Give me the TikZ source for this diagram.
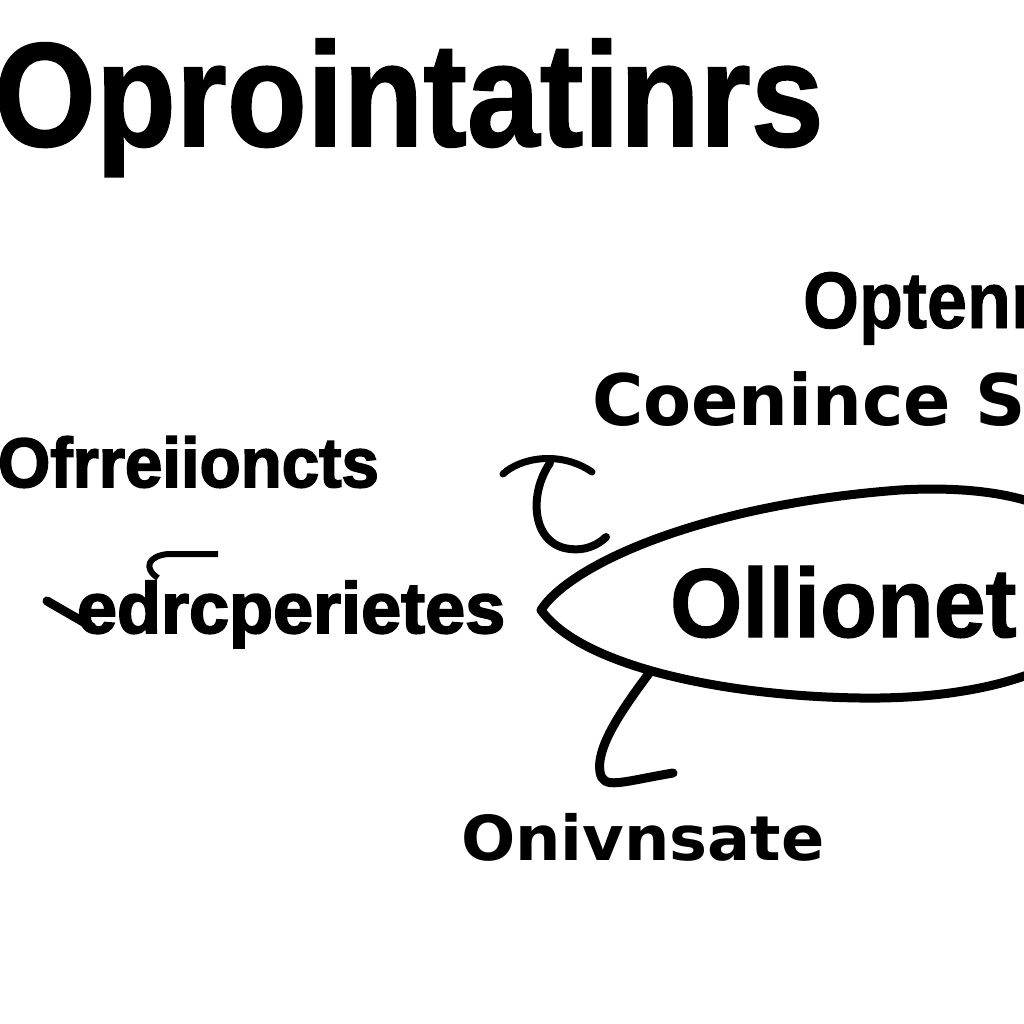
\documentclass[tikz,border=0pt]{standalone}
\usepackage{fontspec}
\setmainfont{Liberation Sans}
\newfontfamily\dvs{DejaVu Sans}
\newfontfamily\heavy[BoldFeatures={FakeBold=2.5}]{Liberation Sans}
\newfontfamily\semiheavy[BoldFeatures={FakeBold=1.2}]{Liberation Sans}
\begin{document}
\begin{tikzpicture}[x=1pt,y=-1pt,
  lbl/.style={anchor=base west, inner sep=0pt, outer sep=0pt},
  ink/.style={line width=7pt, line cap=round, line join=round, black}]
\useasboundingbox (0,0) rectangle (1024,1024);
\fill[white] (0,0) rectangle (1024,1024);
\clip (0,0) rectangle (1024,1024);
% title
\node[lbl] (title) at (-6,146) {\fontsize{148}{148}\selectfont\semiheavy\bfseries\scalebox{0.885}[1]{Oprointatinrs}};
% right texts
\node[lbl] (optenn) at (803,328) {\fontsize{80}{80}\selectfont\semiheavy\bfseries\scalebox{0.9}[1]{Optenn}};
\node[lbl] (coen) at (592,425) {\fontsize{71}{71}\selectfont\dvs\bfseries\scalebox{0.985}[1]{Coenince S}};
% left texts
\node[lbl] (ofr) at (-2,487) {\fontsize{70}{70}\selectfont\heavy\bfseries\scalebox{0.96}[1]{Ofrreiioncts}};
\node[lbl] (edr) at (77,633) {\fontsize{72}{72}\selectfont\heavy\bfseries edrcperietes};
% ellipse
\draw[ink, line width=9pt] (541,610) .. controls (570,565) and (700,505) .. (900,490)
  .. controls (1040,482) and (1110,525) .. (1110,590)
  .. controls (1110,660) and (1000,700) .. (860,698)
  .. controls (720,696) and (580,665) .. cycle;
\node[lbl] (olli) at (670,637) {\fontsize{98}{98}\selectfont\semiheavy\bfseries\scalebox{0.95}[1]{Ollionet}};
% bottom text
\node[lbl] (oniv) at (461,860) {\fontsize{62}{62}\selectfont\dvs\bfseries\scalebox{1.03}[1]{Onivnsate}};
% strokes near edrcperietes
\draw[ink, line width=9pt] (47,601) -- (92,627);
\draw[ink, line width=6pt, line cap=butt] (218,554) -- (168,554) .. controls (148,556) and (143,568) .. (158,578);
% upper connector
\draw[ink, line width=7pt] (503,474) .. controls (520,458) and (560,450) .. (592,472);
\draw[ink, line width=8pt] (550,463) .. controls (528,495) and (532,545) .. (570,549) .. controls (585,551) and (598,545) .. (606,537);
% lower connector
\draw[ink, line width=9pt] (650,672) .. controls (620,712) and (596,748) .. (600,772) .. controls (603,790) and (620,782) .. (673,773);
\end{tikzpicture}
\end{document}
